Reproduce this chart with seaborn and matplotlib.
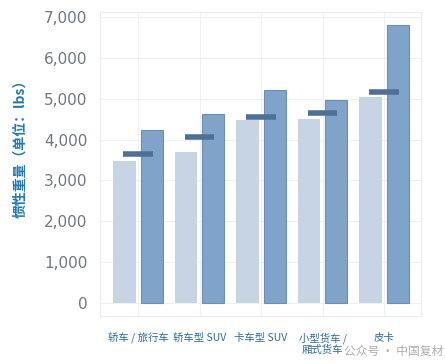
import numpy as np
import pandas as pd
import matplotlib
matplotlib.use("Agg")
import matplotlib.pyplot as plt
import seaborn as sns

categories = ["轿车 / 旅行车", "轿车型 SUV", "卡车型 SUV", "小型货车 /\n厢式货车", "皮卡"]
series_names = ["A", "B"]
light_values = [3480, 3700, 4480, 4510, 5050]
dark_values = [4240, 4630, 5210, 4970, 6820]
marker_values = [3650, 4060, 4550, 4640, 5170]
y_ticks = [0, 1000, 2000, 3000, 4000, 5000, 6000, 7000]

df = pd.DataFrame({
    "cat": categories * 2,
    "series": [series_names[0]] * 5 + [series_names[1]] * 5,
    "value": light_values + dark_values,
})

sns.set_theme(style="white")
plt.rcParams['font.family'] = ['Noto Sans CJK SC', 'DejaVu Sans']

fig = plt.figure(figsize=(4.45, 3.64), dpi=100)
ax = fig.add_axes([0.2247, 0.132, 0.7213, 0.835])

sns.barplot(data=df, x="cat", y="value", hue="series", order=categories,
            palette=["#c6d4e3", "#80a3c9"], saturation=1, width=0.88, gap=0.18,
            legend=False, ax=ax, zorder=2)
for i, p in enumerate(ax.patches):
    if i >= 5:
        p.set_edgecolor("#6b8fb6")
        p.set_linewidth(0.8)
    else:
        p.set_edgecolor("none")

xs = np.arange(len(categories))
ax.hlines(marker_values, xs - 0.24, xs + 0.24, colors="#4e7096", linewidth=4, zorder=3)

ax.set_xlim(-0.62, 4.6)
ax.set_ylim(-330, 7130)
ax.set_yticks(y_ticks)
ax.set_yticklabels([f"{v:,}" for v in y_ticks], fontsize=11, color="#6e7780",
                   family=['DejaVu Sans'])
ax.set_xticks(xs)
ax.set_xticklabels(categories, fontsize=7.5, color="#2f6a9a", linespacing=1.0)
ax.tick_params(axis="y", length=0, pad=9)
ax.tick_params(axis="x", length=0, pad=12)
ax.set_xlabel("")
ax.set_ylabel("惯性重量（单位：lbs）", fontsize=10, color="#2277b6", fontweight="bold")
ax.yaxis.set_label_coords(-0.227, 0.5625)

ax.grid(True, color="#eef1f4", linewidth=0.8, zorder=0)
ax.set_axisbelow(True)
for s in ax.spines.values():
    s.set_color("#e9edf1")
    s.set_linewidth(0.8)

fig.text(0.995, 0.035, "公众号 · 中国复材", fontsize=8.5, color="#9a9a9a", alpha=0.8,
         ha="right", va="center")

fig.savefig("out.png", dpi=100)
